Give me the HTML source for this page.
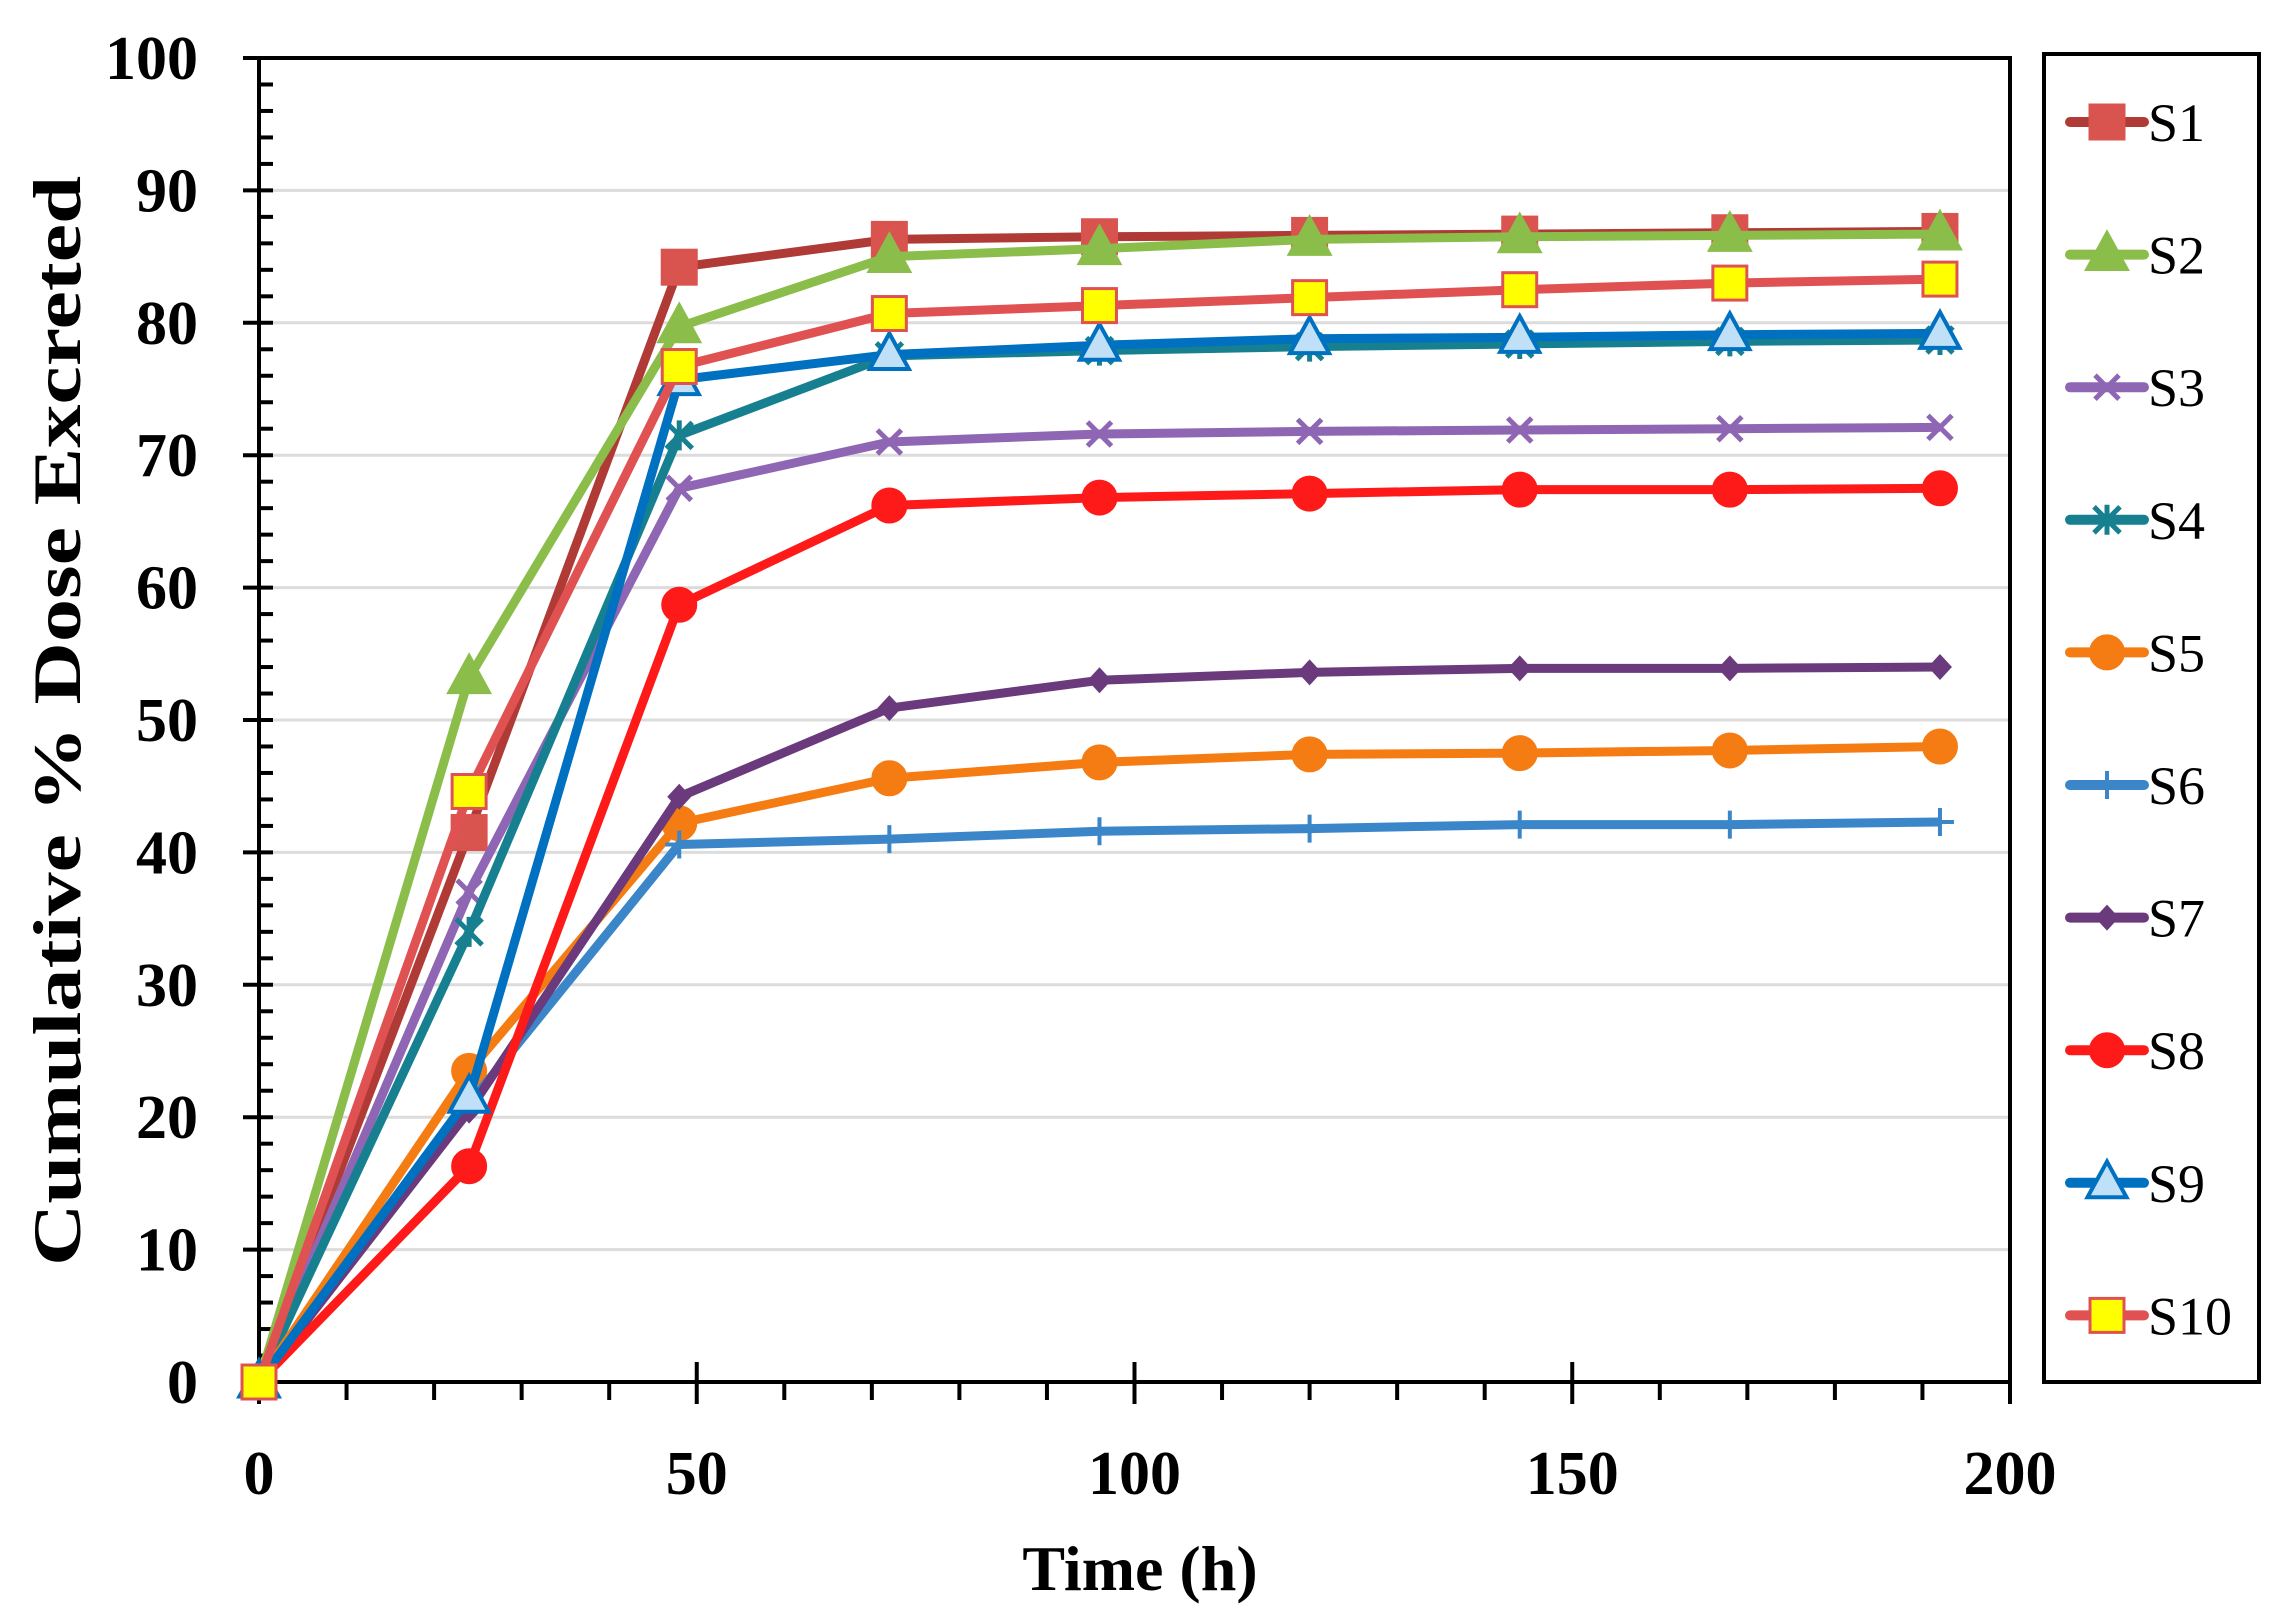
<!DOCTYPE html>
<html><head><meta charset="utf-8"><style>
body{margin:0;background:#fff}
svg{display:block}
text{font-family:"Liberation Serif",serif}
</style></head><body>
<svg id="s" width="2295" height="1623" xmlns="http://www.w3.org/2000/svg"></svg>
<script>
const s=document.getElementById('s');
let h='';
const L=259,R=2010,TOP=58,BOT=1382;
const X=t=>L+t*(R-L)/200, Y=v=>BOT-v*(BOT-TOP)/100;
for(let v=10;v<=90;v+=10)h+=`<line x1="${L+2}" x2="${R}" y1="${Y(v)}" y2="${Y(v)}" stroke="#dcdcdc" stroke-width="3"/>`;
h+=`<rect x="${L}" y="${TOP}" width="${R-L}" height="${BOT-TOP}" fill="none" stroke="#000" stroke-width="4"/>`;
for(let v=0;v<=100;v+=2){const maj=v%10==0;h+=`<line x1="${maj?L-16:L}" x2="${L+14}" y1="${Y(v)}" y2="${Y(v)}" stroke="#000" stroke-width="4"/>`;
 if(maj)h+=`<text x="198" y="${Y(v)+21}" text-anchor="end" font-size="62" font-weight="bold">${v}</text>`;}
for(let t=0;t<=200;t+=10){const maj=t%50==0;h+=`<line x1="${X(t)}" x2="${X(t)}" y1="${maj?BOT-20:BOT}" y2="${BOT+(maj?22:18)}" stroke="#000" stroke-width="4"/>`;
 if(maj)h+=`<text x="${X(t)}" y="1494" text-anchor="middle" font-size="62" font-weight="bold">${t}</text>`;}
h+=`<text x="1140" y="1590" text-anchor="middle" font-size="64" font-weight="bold">Time (h)</text>`;
h+=`<text transform="translate(80,721) rotate(-90)" text-anchor="middle" font-size="68" font-weight="bold" textLength="1090" lengthAdjust="spacingAndGlyphs">Cumulative % Dose Excreted</text>`;
const T=[0,24,48,72,96,120,144,168,192];
const S=[
['S1','#b03a36','sq','#d9534f','#d9534f',[0,41.5,84.2,86.3,86.5,86.6,86.7,86.8,86.9]],
['S2','#8bbd4a','tri','#8bbd4a','#8bbd4a',[0,53.2,79.7,85,85.6,86.3,86.5,86.6,86.7]],
['S3','#8e66b3','x','#8e66b3','none',[0,37,67.5,71,71.6,71.8,71.9,72,72.1]],
['S4','#168090','st','#168090','none',[0,34,71.5,77.5,77.9,78.2,78.4,78.6,78.7]],
['S5','#f57c12','ci','#f57c12','#f57c12',[0,23.5,42.2,45.6,46.8,47.4,47.5,47.7,48]],
['S6','#3a86c8','pl','#3a86c8','none',[0,21,40.6,41,41.6,41.8,42.1,42.1,42.3]],
['S7','#6a3a7c','di','#6a3a7c','#6a3a7c',[0,20.5,44.2,50.9,53,53.6,53.9,53.9,54]],
['S8','#ff1a1a','ci','#ff1a1a','#ff1a1a',[0,16.3,58.7,66.2,66.8,67.1,67.4,67.4,67.5]],
['S9','#0070c0','tri','#0070c0','#bfe0f7',[0,21.5,75.7,77.6,78.3,78.8,78.9,79.1,79.2]],
['S10','#e05252','sq','#e05252','#ffff00',[0,44.6,76.7,80.7,81.3,81.9,82.5,83,83.3]]];
function mk(k,x,y,st,fi){const r=17;
 switch(k){
 case 'sq':return `<rect x="${x-r}" y="${y-r}" width="${2*r}" height="${2*r}" fill="${fi}" stroke="${st}" stroke-width="3"/>`;
 case 'tri':return `<polygon points="${x},${y-r*1.25} ${x+r*1.15},${y+r*0.85} ${x-r*1.15},${y+r*0.85}" fill="${fi}" stroke="${st}" stroke-width="4"/>`;
 case 'ci':return `<circle cx="${x}" cy="${y}" r="${r}" fill="${fi}" stroke="${st}" stroke-width="2"/>`;
 case 'di':return `<polygon points="${x},${y-13} ${x+12},${y} ${x},${y+13} ${x-12},${y}" fill="${fi}"/>`;
 case 'x':return `<path d="M${x-12},${y-12}L${x+12},${y+12}M${x-12},${y+12}L${x+12},${y-12}" stroke="${st}" stroke-width="5"/>`;
 case 'st':return `<path d="M${x-13},${y-13}L${x+13},${y+13}M${x-13},${y+13}L${x+13},${y-13}M${x},${y-15}L${x},${y+15}" stroke="${st}" stroke-width="5"/>`;
 case 'pl':return `<path d="M${x-14},${y}L${x+14},${y}M${x},${y-14}L${x},${y+14}" stroke="${st}" stroke-width="4"/>`;
 }}
S.forEach(([n,c,k,st,fi,d])=>{
 h+=`<polyline points="${T.map((t,i)=>X(t)+','+Y(d[i])).join(' ')}" fill="none" stroke="${c}" stroke-width="9" stroke-linejoin="round"/>`;
 T.forEach((t,i)=>h+=mk(k,X(t),Y(d[i]),st,fi));
});
h+=`<rect x="2044" y="54" width="215" height="1328" fill="#fff" stroke="#000" stroke-width="4"/>`;
S.forEach(([n,c,k,st,fi],i)=>{const y=122+i*132.6;
 h+=`<line x1="2070" x2="2144" y1="${y}" y2="${y}" stroke="${c}" stroke-width="10" stroke-linecap="round"/>`;
 h+=mk(k,2107,y,st,fi);
 h+=`<text x="2148" y="${y+19}" font-size="54">${n}</text>`;});
s.innerHTML=h;
</script>
</body></html>
